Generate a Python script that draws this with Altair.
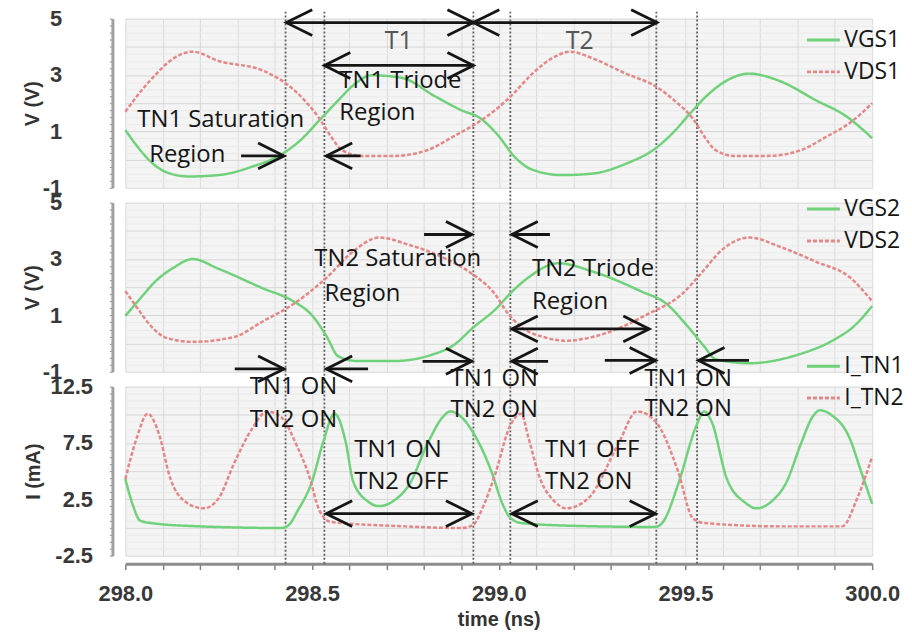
import altair as alt
import pandas as pd

# ---------------- curve data (time in ns) ----------------
t_vgs1 = [298.00, 298.03, 298.07, 298.11, 298.17, 298.25, 298.34, 298.42, 298.47, 298.52, 298.57,
          298.61, 298.66, 298.74, 298.83, 298.90, 298.95, 299.00, 299.04, 299.09, 299.17, 299.25,
          299.34, 299.42, 299.47, 299.51, 299.56, 299.61, 299.67, 299.75, 299.85, 299.93, 300.00]
v_vgs1 = [1.05, 0.5, -0.1, -0.45, -0.6, -0.55, -0.25, 0.2, 0.7, 1.4, 2.1,
          2.63, 2.99, 2.9, 2.24, 1.75, 1.47, 0.83, 0.13, -0.36, -0.55, -0.5,
          -0.15, 0.4, 1.0, 1.6, 2.3, 2.8, 3.05, 2.8, 2.1, 1.54, 0.76]

t_vds1 = [298.00, 298.04, 298.08, 298.13, 298.18, 298.25, 298.37, 298.44, 298.48, 298.52, 298.55,
          298.58, 298.63, 298.72, 298.81, 298.88, 298.93, 298.99, 299.04, 299.09, 299.15, 299.19,
          299.25, 299.34, 299.42, 299.47, 299.52, 299.55, 299.58, 299.63, 299.72, 299.81, 299.88,
          299.94, 300.00]
v_vds1 = [1.7, 2.4, 3.0, 3.6, 3.83, 3.5, 3.15, 2.6, 2.1, 1.45, 0.83,
          0.34, 0.13, 0.13, 0.34, 0.83, 1.2, 1.75, 2.35, 3.05, 3.65, 3.83,
          3.6, 3.05, 2.6, 2.1, 1.45, 0.83, 0.34, 0.13, 0.13, 0.34, 0.83,
          1.3, 2.0]

t_vgs2 = [298.00, 298.04, 298.08, 298.13, 298.18, 298.25, 298.37, 298.45, 298.50, 298.54, 298.57,
          298.62, 298.72, 298.82, 298.88, 298.93, 298.99, 299.04, 299.08, 299.16, 299.25, 299.38,
          299.45, 299.50, 299.55, 299.58, 299.67, 299.80, 299.90, 299.95, 300.00]
v_vgs2 = [0.98, 1.6, 2.2, 2.7, 3.0, 2.65, 1.95, 1.5, 1.0, 0.23, -0.45,
          -0.62, -0.62, -0.4, -0.05, 0.55, 1.2, 1.9, 2.35, 2.85, 2.56, 1.86,
          1.4, 0.7, -0.1, -0.55, -0.7, -0.4, 0.15, 0.6, 1.33]

t_vds2 = [298.00, 298.03, 298.07, 298.11, 298.18, 298.29, 298.37, 298.45, 298.54, 298.61, 298.68,
          298.76, 298.85, 298.93, 298.99, 299.02, 299.06, 299.12, 299.18, 299.27, 299.40, 299.49,
          299.54, 299.60, 299.67, 299.76, 299.85, 299.94, 300.00]
v_vds2 = [1.86, 1.3, 0.6, 0.2, 0.06, 0.23, 0.8, 1.4, 2.35, 3.27, 3.76,
          3.5, 3.06, 2.46, 1.75, 1.15, 0.59, 0.23, 0.1, 0.3, 1.05, 1.75,
          2.46, 3.35, 3.76, 3.4, 2.9, 2.35, 1.5]

t_itn1 = [298.00, 298.02, 298.04, 298.08, 298.20, 298.30, 298.42, 298.44, 298.46, 298.50, 298.53,
          298.56, 298.59, 298.61, 298.65, 298.68, 298.72, 298.76, 298.81, 298.85, 298.87, 298.90,
          298.93, 298.98, 299.01, 299.03, 299.06, 299.20, 299.42, 299.44, 299.48, 299.53, 299.55,
          299.57, 299.61, 299.66, 299.69, 299.73, 299.77, 299.81, 299.84, 299.86, 299.89, 299.94,
          299.97, 300.00]
i_itn1 = [4.3, 2.0, 0.6, 0.35, 0.1, 0.0, -0.05, 0.3, 1.4, 4.1, 7.6,
          10.1, 7.6, 4.1, 2.3, 1.9, 2.4, 3.8, 7.5, 9.8, 10.3, 9.8,
          8.5, 5.0, 2.1, 0.9, 0.4, 0.15, 0.05, 0.5, 3.8, 9.1, 10.3,
          9.4, 4.4, 2.2, 1.7, 2.3, 4.0, 7.5, 9.8, 10.4, 10.0, 7.9,
          5.0, 2.1]

t_itn2 = [298.00, 298.03, 298.06, 298.09, 298.12, 298.16, 298.21, 298.25, 298.29, 298.34, 298.38,
          298.42, 298.46, 298.49, 298.52, 298.55, 298.75, 298.90, 298.93, 298.96, 298.99, 299.03,
          299.06, 299.08, 299.11, 299.15, 299.18, 299.24, 299.32, 299.37, 299.42, 299.48, 299.52,
          299.55, 299.76, 299.92, 299.96, 300.00]
i_itn2 = [4.3, 7.9, 10.1, 8.3, 4.4, 2.3, 1.7, 2.6, 5.6, 8.8, 10.3,
          9.7, 7.2, 4.8, 1.5, 0.5, 0.1, -0.05, 0.2, 2.0, 4.7, 9.0,
          10.1, 7.9, 4.4, 2.3, 1.7, 2.6, 7.4, 10.3, 9.4, 5.0, 0.8,
          0.4, 0.1, 0.1, 2.6, 6.3]

# vertical dotted markers (ns)
vline_t = [298.429, 298.533, 298.932, 299.031, 299.422, 299.531]

# ---------------- annotations ----------------
# panel 1
p1_arrow_t1 = [298.431, 298.932, 298.533, 298.31, 298.538]
p1_arrow_t2 = [298.932, 299.424, 298.932, 298.425, 298.63]
p1_arrow_v = [4.86, 4.86, 3.34, 0.13, 0.13]
p1_arrow_heads = ["both", "both", "both", "end", "start"]
p1_text = ["TN1 Saturation", "Region", "TN1 Triode", "Region"]
p1_text_t = [298.032, 298.064, 298.573, 298.573]
p1_text_v = [1.40, 0.16, 2.78, 1.65]
p1_big = ["T1", "T2"]
p1_big_t = [298.732, 299.217]
p1_big_v = [4.19, 4.19]

# panel 2
p2_arrow_t1 = [298.80, 299.035, 299.035, 298.293, 298.538, 298.796, 299.035, 299.284, 299.535]
p2_arrow_t2 = [298.928, 299.137, 299.403, 298.425, 298.65, 298.928, 299.132, 299.42, 299.67]
p2_arrow_v = [3.87, 3.87, 0.52, -0.9, -0.9, -0.63, -0.63, -0.6, -0.6]
p2_arrow_heads = ["end", "start", "both", "end", "start", "end", "start", "end", "start"]
p2_text = ["TN2 Saturation", "Region", "TN2 Triode", "Region"]
p2_text_t = [298.506, 298.533, 299.089, 299.089]
p2_text_v = [2.99, 1.75, 2.64, 1.47]

# panel 3
p3_arrow_t1 = [298.538, 299.035]
p3_arrow_t2 = [298.928, 299.42]
p3_arrow_v = [1.23, 1.23]
p3_arrow_heads = ["both", "both"]
p3_text = ["TN1 ON", "TN2 ON", "TN1 ON", "TN2 ON", "TN1 ON", "TN2 ON",
           "TN1 ON", "TN2 OFF", "TN1 OFF", "TN2 ON"]
p3_text_t = [298.333, 298.333, 298.871, 298.871, 299.39, 299.39,
             298.613, 298.613, 299.124, 299.124]
p3_text_v = [12.5, 9.57, 13.2, 10.46, 13.2, 10.5, 6.91, 4.07, 6.91, 4.07]

x_ticks = [round(298.0 + 0.1 * i, 1) for i in range(21)]

GREEN = "#6fd27b"
RED = "#e58787"
INK = "#151515"
R_HEAD = "M-2,-1L0,0L-2,1"
L_HEAD = "M2,-1L0,0L2,1"


def series_df(names, ts, vs):
    frames = []
    for n, t, v in zip(names, ts, vs):
        frames.append(pd.DataFrame({"t": t, "v": v, "series": n}))
    return pd.concat(frames, ignore_index=True)


def panel(names, ts, vs, ydom, step, ytitle, lab_pad, title_pad, leg_y,
          rule_top, rule_bot, a_t1, a_t2, a_v, a_heads, txt, txt_t, txt_v,
          big=None, big_t=None, big_v=None, bottom=False):
    xs = alt.Scale(domain=[298.0, 300.0], nice=False, zero=False)
    ys = alt.Scale(domain=ydom, nice=False, zero=False)
    nsteps = int(round((ydom[1] - ydom[0]) / step))
    yvals = [round(ydom[0] + step * i, 4) for i in range(nsteps + 1)]
    k = f"round(datum.value/{step})"
    yaxis = alt.Axis(
        values=yvals, title=ytitle, grid=True,
        gridColor={"condition": {"test": f"{k} % 4 == 0", "value": "#d6d6d6"}, "value": "#eaeaea"},
        labelExpr=f"({k} + 4) % 8 == 0 ? ('' + datum.value) : ''",
        labelOverlap=False, labelFlush=False,
        labelFont="Liberation Sans", labelFontWeight="bold", labelFontSize=22, labelColor="#383838",
        labelPadding=lab_pad, offset=13, domainColor="#a0a0a0", domainWidth=3,
        tickColor="#8c8c8c", tickSize=3, tickWidth=1,
        titleFont="Liberation Sans", titleFontWeight="bold", titleFontSize=20, titleColor="#333333",
        titlePadding=title_pad,
    )
    if bottom:
        xaxis = alt.Axis(
            values=x_ticks, grid=True, gridColor="#dadada",
            labelExpr="round(datum.value*10) % 5 == 0 ? format(datum.value, '.1f') : ''",
            labelOverlap=False, labelFlush=False,
            labelFont="Liberation Sans", labelFontWeight="bold", labelFontSize=22, labelColor="#383838",
            labelPadding=14, offset=8, domainColor="#8c8c8c", domainWidth=3,
            tickColor="#808080", tickSize=6, tickWidth=1.5,
            title="time (ns)", titleFont="Liberation Sans", titleFontWeight="bold",
            titleFontSize=20, titleColor="#333333", titlePadding=5,
        )
    else:
        xaxis = alt.Axis(values=x_ticks, grid=True, gridColor="#dadada", labels=False,
                         ticks=False, domain=False, title=None)
    X = alt.X("t:Q", scale=xs, axis=xaxis)
    Y = alt.Y("v:Q", scale=ys, axis=yaxis)

    legend = alt.Legend(orient="none", legendX=684, legendY=leg_y, title=None,
                        labelFont="Open Sans", labelFontSize=23, labelColor=INK,
                        symbolType="stroke", symbolSize=1089, symbolStrokeWidth=3,
                        rowPadding=2, labelOffset=3, padding=0)

    lines = alt.Chart(series_df(names, ts, vs)).mark_line(
        strokeWidth=2.5, interpolate="monotone"
    ).encode(
        x=X, y=Y,
        color=alt.Color("series:N", scale=alt.Scale(domain=names, range=[GREEN, RED]), legend=legend),
        strokeDash=alt.StrokeDash("series:N", scale=alt.Scale(domain=names, range=[[1, 0], [4, 2]]),
                                  legend=legend),
    )

    vdf = pd.DataFrame({"t": vline_t, "v": rule_top, "v2": rule_bot})
    vrules = alt.Chart(vdf).mark_rule(color="#606060", strokeWidth=1.8, strokeDash=[2, 2]).encode(
        x=X, y=Y, y2="v2:Q")

    adf = pd.DataFrame({"t": a_t1, "t2": a_t2, "v": a_v})
    shafts = alt.Chart(adf).mark_rule(color=INK, strokeWidth=2.8).encode(x=X, x2="t2:Q", y=Y)

    rh_t, rh_v, lh_t, lh_v = [], [], [], []
    for t1, t2, v, h in zip(a_t1, a_t2, a_v, a_heads):
        if h in ("both", "end"):
            rh_t.append(t2); rh_v.append(v)
        if h in ("both", "start"):
            lh_t.append(t1); lh_v.append(v)
    rheads = alt.Chart(pd.DataFrame({"t": rh_t, "v": rh_v})).mark_point(
        shape=R_HEAD, size=680, filled=False, strokeWidth=2.8, color=INK, opacity=1
    ).encode(x=X, y=Y)
    lheads = alt.Chart(pd.DataFrame({"t": lh_t, "v": lh_v})).mark_point(
        shape=L_HEAD, size=680, filled=False, strokeWidth=2.8, color=INK, opacity=1
    ).encode(x=X, y=Y)

    tdf = pd.DataFrame({"t": txt_t, "v": txt_v, "label": txt})
    texts = alt.Chart(tdf).mark_text(align="left", baseline="middle", font="Open Sans",
                                     fontSize=24, color=INK).encode(x=X, y=Y, text="label:N")
    layers = [vrules, lines, shafts, rheads, lheads, texts]
    if big:
        bdf = pd.DataFrame({"t": big_t, "v": big_v, "label": big})
        layers.append(alt.Chart(bdf).mark_text(align="center", baseline="middle", font="Open Sans",
                                               fontSize=25, color="#555555").encode(x=X, y=Y, text="label:N"))
    return alt.layer(*layers).properties(width=751, height=170)


p1 = panel(["VGS1", "VDS1"], [t_vgs1, t_vds1], [v_vgs1, v_vds1], [-1, 5], 0.25, "V (V)", 48, 0, 3.5,
           5.25, -1.55, p1_arrow_t1, p1_arrow_t2, p1_arrow_v, p1_arrow_heads,
           p1_text, p1_text_t, p1_text_v, p1_big, p1_big_t, p1_big_v)
p2 = panel(["VGS2", "VDS2"], [t_vgs2, t_vds2], [v_vgs2, v_vds2], [-1, 5], 0.25, "V (V)", 48, 0, -11.5,
           5.0, -1.55, p2_arrow_t1, p2_arrow_t2, p2_arrow_v, p2_arrow_heads,
           p2_text, p2_text_t, p2_text_v)
p3 = panel(["I_TN1", "I_TN2"], [t_itn1, t_itn2], [i_itn1, i_itn2], [-2.5, 12.5], 0.625, "I (mA)", 17, 7,
           -38.5, 12.5, -3.3, p3_arrow_t1, p3_arrow_t2, p3_arrow_v, p3_arrow_heads,
           p3_text, p3_text_t, p3_text_v, bottom=True)

chart = alt.vconcat(p1, p2, p3, spacing=15, bounds="flush").resolve_scale(
    x="independent", y="independent", color="independent", strokeDash="independent"
).resolve_legend(color="independent", strokeDash="independent").properties(
    padding={"left": 14, "top": -6, "right": 0, "bottom": 0},
    background="white",
).configure_view(fill="#f4f4f4", strokeWidth=0)

chart.save("out.html", embed_options={"renderer": "svg", "actions": False})
